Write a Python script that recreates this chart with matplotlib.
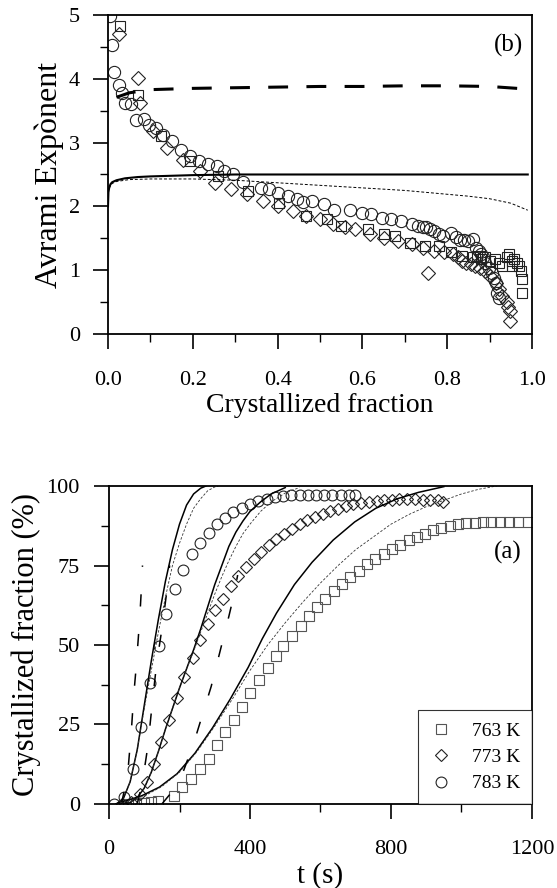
import matplotlib
matplotlib.use("Agg")
import matplotlib.pyplot as plt
from matplotlib.ticker import MultipleLocator

plt.rcParams['font.family'] = ['Liberation Serif', 'DejaVu Serif']

# ---------------- panel (b): Avrami exponent ----------------
b_circ_x = [0.004, 0.009, 0.014, 0.025, 0.034, 0.04, 0.055, 0.067, 0.084, 0.096, 0.113, 0.13, 0.151,
            0.172, 0.193, 0.214, 0.235, 0.256, 0.274, 0.294, 0.319, 0.36, 0.38, 0.40, 0.424, 0.445, 0.46,
            0.48, 0.51, 0.533, 0.57, 0.60, 0.62, 0.646, 0.667, 0.69, 0.717, 0.73, 0.742, 0.75, 0.76, 0.77,
            0.78, 0.79, 0.81, 0.82, 0.83, 0.84, 0.85, 0.86, 0.868, 0.875, 0.88, 0.885, 0.89, 0.898, 0.906,
            0.91, 0.914, 0.918, 0.923]
b_circ_y = [4.98, 4.53, 4.1, 3.9, 3.77, 3.62, 3.6, 3.36, 3.37, 3.27, 3.23, 3.12, 3.02,
            2.89, 2.79, 2.71, 2.66, 2.63, 2.55, 2.5, 2.38, 2.29, 2.27, 2.21, 2.16, 2.11, 2.07,
            2.09, 2.03, 1.95, 1.94, 1.9, 1.88, 1.82, 1.8, 1.77, 1.72, 1.69, 1.68, 1.67, 1.64, 1.61,
            1.57, 1.54, 1.59, 1.52, 1.48, 1.47, 1.46, 1.49, 1.35, 1.3, 1.25, 1.2, 1.12, 1.04, 0.96,
            0.88, 0.8, 0.65, 0.57]
b_diam_x = [0.025, 0.071, 0.076, 0.105, 0.138, 0.176, 0.218, 0.252, 0.29, 0.327, 0.365, 0.4, 0.436,
            0.466, 0.5, 0.53, 0.56, 0.583, 0.617, 0.65, 0.684, 0.717, 0.743, 0.755, 0.768, 0.793,
            0.814, 0.825, 0.835, 0.845, 0.856, 0.866, 0.877, 0.89, 0.902, 0.914, 0.923, 0.93, 0.94,
            0.944, 0.948, 0.948]
b_diam_y = [4.71, 4.01, 3.62, 3.18, 2.92, 2.73, 2.55, 2.37, 2.27, 2.19, 2.08, 2.0, 1.93,
            1.85, 1.8, 1.72, 1.67, 1.64, 1.56, 1.51, 1.46, 1.41, 1.35, 0.96, 1.3, 1.28,
            1.25, 1.2, 1.15, 1.12, 1.09, 1.06, 1.04, 0.99, 0.91, 0.8, 0.7, 0.6, 0.5,
            0.42, 0.36, 0.2]
b_sq_x = [0.029, 0.071, 0.126, 0.193, 0.26, 0.331, 0.403, 0.466, 0.516, 0.55, 0.613, 0.65, 0.676,
          0.713, 0.747, 0.78, 0.81, 0.835, 0.86, 0.87, 0.88, 0.89, 0.902, 0.912, 0.923, 0.93, 0.94,
          0.945, 0.952, 0.952, 0.958, 0.965, 0.969, 0.973, 0.977, 0.977]
b_sq_y = [4.82, 3.75, 3.1, 2.71, 2.47, 2.24, 2.06, 1.85, 1.8, 1.69, 1.64, 1.56, 1.54,
          1.43, 1.38, 1.38, 1.28, 1.22, 1.2, 1.22, 1.17, 1.2, 1.15, 1.17, 1.12, 1.07, 1.2,
          1.25, 1.15, 1.07, 1.18, 1.12, 1.07, 0.99, 0.86, 0.65]

b_solid_x = [0, 0.001, 0.003, 0.006, 0.01, 0.02, 0.04, 0.07, 0.1, 0.15, 0.2, 0.3, 0.5, 0.7, 0.9, 0.99]
b_solid_y = [2.0, 2.22, 2.3, 2.35, 2.38, 2.41, 2.44, 2.46, 2.47, 2.48, 2.49, 2.5, 2.5, 2.5, 2.5, 2.5]
b_thin_x = [0.003, 0.006, 0.01, 0.02, 0.05, 0.1, 0.2, 0.3, 0.4, 0.5, 0.6, 0.7, 0.8, 0.85, 0.9, 0.95, 0.99]
b_thin_y = [2.28, 2.33, 2.36, 2.39, 2.42, 2.43, 2.43, 2.41, 2.37, 2.33, 2.29, 2.25, 2.19, 2.16, 2.12, 2.05, 1.94]
b_thick_x = [0.02, 0.05, 0.1, 0.2, 0.3, 0.4, 0.5, 0.6, 0.7, 0.8, 0.9, 0.965]
b_thick_y = [3.71, 3.78, 3.83, 3.85, 3.86, 3.87, 3.88, 3.88, 3.89, 3.89, 3.88, 3.85]

# ---------------- panel (a): crystallized fraction ----------------
sq_t = [55, 77, 100, 120, 140, 183, 208, 233, 259, 284, 306, 329, 354, 376, 399, 425, 450, 473, 495,
        520, 546, 568, 591, 614, 638, 661, 685, 709, 732, 755, 779, 802, 826, 850, 873, 896, 920,
        943, 966, 990, 1013, 1037, 1061, 1084, 1109, 1135, 1160, 1190]
sq_f = [0, 0, 0.3, 0.6, 1, 2.6, 5.3, 7.9, 11, 14.3, 18.5, 22.7, 26.4, 30.6, 34.8, 39, 42.8, 46.5, 49.6,
        52.8, 56, 59.1, 61.8, 64.4, 67, 69.2, 71.3, 73.4, 75.5, 77.1, 78.7, 80.3, 81.5, 82.9, 84, 85,
        86.1, 86.8, 87.4, 88, 88.3, 88.5, 88.7, 88.7, 88.7, 88.7, 88.7, 88.7]
di_t = [37, 62, 88, 108, 128, 148, 171, 193, 213, 237, 259, 281, 302, 324, 346, 366, 388, 410, 432, 453,
        475, 497, 518, 541, 562, 584, 606, 628, 649, 671, 693, 715, 737, 759, 780, 802, 824, 845, 868,
        890, 911, 933, 948]
di_f = [0, 0.5, 3, 6.9, 12.7, 19.5, 26.4, 33.3, 39.9, 46, 51.7, 56.7, 61, 64.6, 68.6, 71.6, 74.4, 77.1,
        79.4, 81.5, 83.4, 85, 86.6, 87.9, 89.2, 90.3, 91.3, 92.2, 92.9, 93.7, 94.3, 94.7, 95, 95.2, 95.5,
        95.7, 95.8, 95.8, 95.8, 95.7, 95.6, 95.5, 95.1]
ci_t = [14, 42, 67, 91, 115, 141, 163, 186, 211, 236, 259, 284, 306, 329, 352, 376, 400, 423, 447, 470,
        493, 517, 541, 564, 588, 611, 634, 658, 682, 697]
ci_f = [0, 2.1, 11.1, 24.3, 38, 49.6, 59.7, 67.6, 73.7, 78.7, 82.2, 85.3, 87.9, 90, 91.7, 93.1, 94.3,
        95.2, 96, 96.5, 96.8, 97.1, 97.1, 97.1, 97.1, 97.1, 97.1, 97.1, 97.1, 97.1]

# fitted curves (solid, thin dashed, long dashed) per temperature
s783_t = [20, 40, 60, 80, 90, 100, 120, 140, 160, 180, 200, 220, 240, 260, 275]
s783_f = [0, 1.5, 7, 17, 24, 31, 45, 58, 70, 80, 88, 94, 97.5, 99.3, 100]
d783_t = [20, 40, 60, 80, 100, 120, 140, 160, 180, 200, 220, 240, 260, 280, 300, 310]
d783_f = [0, 1.5, 7, 17, 30, 42, 54, 65, 75, 82, 88, 93, 96, 98.5, 99.7, 100]
l783_t = [35, 45, 55, 64, 70, 77, 83, 88, 92, 95]
l783_f = [0, 5, 12, 24, 34, 43, 52, 60, 68, 75]

s773_t = [40, 60, 80, 100, 120, 140, 160, 180, 200, 220, 240, 260, 280, 300, 320, 340, 360, 380, 400, 430, 460, 500]
s773_f = [0, 0.5, 2, 5, 10, 16.5, 23.5, 30, 36.5, 42.5, 48.5, 55, 62, 69, 75, 81, 85.5, 89, 92, 95, 97.5, 99.5]
d773_t = [40, 60, 80, 100, 120, 140, 160, 180, 200, 220, 240, 260, 280, 300, 320, 340, 360, 380, 400, 430, 460, 500, 540]
d773_f = [0, 0.5, 2, 5, 10, 16.5, 23.5, 30, 36.5, 42.5, 48, 54, 60, 66, 71.5, 76.5, 81, 85, 88, 92, 95, 97.8, 99.5]
l773_t = [80, 95, 110, 123, 135, 150, 163, 172]
l773_f = [0, 7, 18, 32, 44, 55, 66, 75]

s763_t = [20, 93, 143, 193, 244, 294, 344, 395, 435, 475, 526, 576, 636, 697, 757, 818, 878, 950]
s763_f = [0, 2.6, 5.3, 9.5, 16, 24, 33, 43, 52, 60, 69, 76, 83, 88.7, 93, 96, 98, 99.8]
d763_t = [20, 100, 150, 200, 250, 300, 350, 400, 450, 500, 550, 600, 650, 700, 750, 800, 850, 900, 950, 1000, 1050, 1100]
d763_f = [0, 2.5, 5.5, 10, 16.5, 24.5, 33, 42, 50, 57, 63.5, 69.5, 75, 80, 84, 88, 91, 93.5, 95.5, 97.5, 99, 100]
l763_t = [150, 180, 210, 240, 265, 290, 315, 340, 355, 365]
l763_f = [0, 4, 10, 19, 28, 37, 48, 59, 66, 72]

fig = plt.figure(figsize=(5.57, 8.88), dpi=100)
axb = fig.add_axes([0.1939, 0.6239, 0.7612, 0.3592])
axa = fig.add_axes([0.1957, 0.0946, 0.7594, 0.3581])

mk = dict(linestyle='none', mfc='none', mec='#222222', mew=0.8)

# panel b
axb.plot(b_circ_x, b_circ_y, marker='o', ms=8.8, **mk)
axb.plot(b_diam_x, b_diam_y, marker='D', ms=6.8, **mk)
axb.plot(b_sq_x, b_sq_y, marker='s', ms=7.8, **mk)
axb.plot(b_solid_x, b_solid_y, color='black', lw=1.5)
axb.plot(b_thin_x, b_thin_y, color='black', lw=0.7, dashes=(3, 2))
axb.plot(b_thick_x, b_thick_y, color='black', lw=2.2, dashes=(6.5, 6))
axb.set_xlim(0, 1)
axb.set_ylim(0, 5)
axb.xaxis.set_major_locator(MultipleLocator(0.2))
axb.xaxis.set_minor_locator(MultipleLocator(0.1))
axb.yaxis.set_major_locator(MultipleLocator(1))
axb.yaxis.set_minor_locator(MultipleLocator(0.5))
axb.xaxis.set_major_formatter(plt.FuncFormatter(lambda v, p: '%.1f' % v))
axb.set_xlabel('Crystallized fraction', fontsize=20, labelpad=2)
axb.set_ylabel('Avrami Expònent', fontsize=23, labelpad=4)
axb.text(0.978, 0.905, '(b)', transform=axb.transAxes, ha='right', va='center', fontsize=18)
axb.tick_params(axis='x', which='major', pad=16)
axb.tick_params(axis='y', which='major', pad=9)

# panel a
axa.plot(sq_t, sq_f, marker='s', ms=7.2, label='763 K', linestyle='none', mfc='none', mec='#555555', mew=0.8)
axa.plot(di_t, di_f, marker='D', ms=6, label='773 K', **mk)
axa.plot(ci_t, ci_f, marker='o', ms=7.8, label='783 K', **mk)
for st, sf, dt, df, lt, lf in [(s783_t, s783_f, d783_t, d783_f, l783_t, l783_f),
                               (s773_t, s773_f, d773_t, d773_f, l773_t, l773_f),
                               (s763_t, s763_f, d763_t, d763_f, l763_t, l763_f)]:
    axa.plot(st, sf, color='black', lw=1.1)
    axa.plot(dt, df, color='#333333', lw=0.6, dashes=(3, 2))
    axa.plot(lt, lf, color='black', lw=1.1, dashes=(8, 18))
axa.set_xlim(0, 1200)
axa.set_ylim(0, 100)
axa.xaxis.set_major_locator(MultipleLocator(400))
axa.xaxis.set_minor_locator(MultipleLocator(200))
axa.yaxis.set_major_locator(MultipleLocator(25))
axa.yaxis.set_minor_locator(MultipleLocator(12.5))
axa.set_xlabel('t (s)', fontsize=21, labelpad=2)
axa.set_ylabel('Crystallized fraction (%)', fontsize=22, labelpad=4)
axa.text(0.975, 0.79, '(a)', transform=axa.transAxes, ha='right', va='center', fontsize=18)
axa.tick_params(axis='x', which='major', pad=15)
axa.tick_params(axis='y', which='major', pad=10)
leg = axa.legend(loc='lower right', borderaxespad=0, fontsize=14, frameon=True, fancybox=False,
                 handletextpad=1.0, borderpad=0.6, labelspacing=0.45, markerfirst=True, handlelength=1.2)
leg.get_frame().set_edgecolor('black')
leg.get_frame().set_linewidth(0.8)

for ax in (axb, axa):
    for sp in ax.spines.values():
        sp.set_linewidth(1.3)
    ax.tick_params(which='major', direction='out', length=11, width=1.2, labelsize=16)
    ax.tick_params(which='minor', direction='out', length=5.5, width=1.0)

fig.savefig('out.png', dpi=100)
